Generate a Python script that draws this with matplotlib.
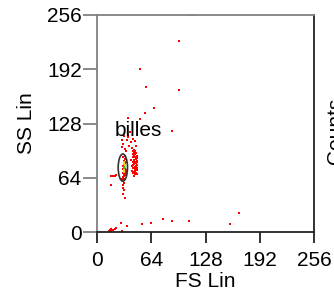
import matplotlib
matplotlib.use("Agg")
import matplotlib.pyplot as plt
from matplotlib.patches import Ellipse

plt.rcParams["font.family"] = ["Liberation Sans", "DejaVu Sans"]

ticks = [0, 64, 128, 192, 256]

# red events (FS, SS)
fs_red = [31, 32, 33, 31, 32, 33, 34, 31, 32, 33, 34, 32, 33, 31, 32, 33, 34, 32, 33, 31, 30, 32, 33, 31, 32, 33, 34, 32,
          40, 41, 42, 43, 44, 45, 46, 47, 45, 46, 47, 44, 45, 46, 47, 43, 44, 45, 46, 47, 45, 46, 47, 41, 42, 44, 45, 46,
          47, 45, 46, 47, 43, 44, 42, 46, 47, 45, 46, 44,
          29, 31, 33, 35, 37, 38, 40, 42, 44, 46, 36, 39, 41, 43, 32, 34, 45, 30,
          112, 97, 97, 51, 58, 67, 57, 51, 88, 37, 167, 157, 108, 88, 78, 64, 53, 35, 28, 30,
          14, 15, 16, 17, 19, 21, 23, 16, 17, 19, 21, 22, 33, 32, 31, 31, 31]
ss_red = [60, 62, 63, 65, 66, 67, 68, 70, 71, 72, 73, 75, 76, 78, 79, 80, 82, 84, 86, 88, 62, 58, 90, 74, 69, 77, 71, 83,
          85, 78, 82, 75, 80, 72, 70, 68, 88, 86, 84, 90, 92, 78, 76, 70, 66, 74, 81, 79, 95, 93, 90, 72, 88, 85, 83, 73,
          87, 77, 68, 82, 92, 71, 79, 75, 73, 69, 89, 94,
          100, 104, 98, 108, 112, 102, 106, 110, 97, 101, 115, 118, 99, 96, 113, 95, 107, 109,
          256, 225, 168, 192, 171, 146, 140, 133, 119, 135, 23, 9, 13, 13, 15, 11, 10, 7, 11, 1,
          1, 2, 3, 1, 2, 3, 5, 55, 66, 66, 66, 67, 40, 50, 45, 52, 56]

# dense core
fs_yellow = [32, 32, 33, 32, 33, 32]
ss_yellow = [71, 73, 77, 80, 79, 82]
fs_green = [32, 32]
ss_green = [75, 77]

fig = plt.figure(figsize=(3.34, 2.91), dpi=100)
ax = fig.add_axes([97 / 334, 59 / 291, 217 / 334, 217 / 291])

ax.scatter(fs_red, ss_red, s=1.3, c="#ff0000", marker="s", linewidths=0)
ax.scatter(fs_yellow, ss_yellow, s=2.5, c="#ffd000", marker="s", linewidths=0)
ax.scatter(fs_green, ss_green, s=2.5, c="#40c000", marker="s", linewidths=0)

ax.add_patch(Ellipse((30.5, 76), 11, 32, fill=False, ec="#333333", lw=1.2))
ax.text(21, 120, "billes", fontsize=15, ha="left", va="center")

ax.set_xlim(0, 256)
ax.set_ylim(0, 256)
ax.set_xticks(ticks)
ax.set_yticks(ticks)
ax.tick_params(labelsize=15, width=1.3)
ax.tick_params(axis="x", colors="#222222", labelcolor="black", length=8, pad=6)
ax.tick_params(axis="y", colors="#808080", labelcolor="black", length=10, pad=1)
ax.spines["left"].set_color("#808080")
ax.spines["top"].set_color("#808080")
ax.spines["right"].set_color("#222222")
ax.spines["bottom"].set_color("#222222")
for s in ax.spines.values():
    s.set_linewidth(1.3)

ax.set_xlabel("FS Lin", fontsize=15, labelpad=1)
ax.set_ylabel("SS Lin", fontsize=15, labelpad=8)

fig.text(326 / 334, 0.55, "Counts", fontsize=15, rotation=90, ha="left", va="center")

fig.savefig("out.png", dpi=100)
